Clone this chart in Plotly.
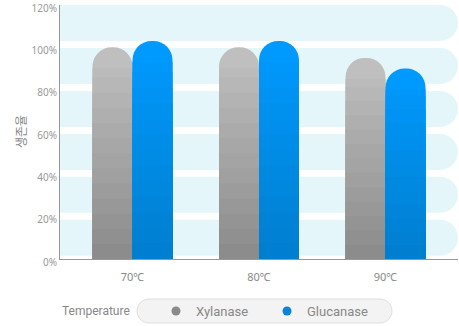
import plotly.graph_objects as go

# ---- data ----
categories = ["70℃", "80℃", "90℃"]
xylanase = [100, 100, 95]
glucanase = [103, 103, 90]
y_ticks = [0, 20, 40, 60, 80, 100, 120]
y_ticktext = ["0%", "20%", "40%", "60%", "80%", "100%", "120%"]
y_title = "생존율"
legend_title = "Temperature"

# ---- layout constants (pixels) ----
W, H = 459, 326
ML, MR, MT, MB = 60, 1, 5, 67
PW, PH = W - ML - MR, H - MT - MB
YMAX = 120
px_per_unit_y = PH / YMAX
XR = [-0.573, 2.573]

GRAY_TOP, GRAY_BOT = (193, 193, 193), (138, 138, 138)
BLUE_TOP, BLUE_BOT = (0, 154, 255), (0, 126, 206)


def mix(c1, c2, f):
    return "rgb(%d,%d,%d)" % tuple(round(a + (b - a) * f) for a, b in zip(c1, c2))


fig = go.Figure()

N = 14
cap = 21 / px_per_unit_y  # rounded cap height in data units


def add_gradient_bars(name, vals, group, top, bot):
    # full rounded bar (lightest colour)
    fig.add_trace(go.Bar(x=categories, y=vals, name=name, offsetgroup=group,
                         marker=dict(color=mix(bot, top, 1 - 0.5 / N), line=dict(width=0),
                                     cornerradius="50%"),
                         showlegend=False, hoverinfo="skip"))
    # overlay darker rectangular bars to build a vertical gradient
    for k in range(1, N):
        frac = 1 - k / N
        hs = [max(0.0, min(v * frac, v - cap)) for v in vals]
        col = mix(bot, top, 1 - (k + 0.5) / N)
        fig.add_trace(go.Bar(x=categories, y=hs, offsetgroup=group,
                             marker=dict(color=col, line=dict(width=0)),
                             showlegend=False, hoverinfo="skip"))


add_gradient_bars("Xylanase", xylanase, "xy", GRAY_TOP, GRAY_BOT)
add_gradient_bars("Glucanase", glucanase, "gl", BLUE_TOP, BLUE_BOT)

# legend-only traces with round markers
fig.add_trace(go.Scatter(x=[None], y=[None], mode="markers", name="Xylanase",
                         marker=dict(symbol="circle", size=9, color="#8a8a8a")))
fig.add_trace(go.Scatter(x=[None], y=[None], mode="markers", name="Glucanase",
                         marker=dict(symbol="circle", size=9, color="#0a84d8")))

# ---- background bands with rounded right ends ----
shapes = []
K = 0.5523
r_px = 18
rx = r_px / PW
for k in range(6):
    y0 = 20 * k + 1.5 + 0.3 * k
    y1 = min(y0 + 17, YMAX)
    ym = (y0 + y1) / 2
    ry = (y1 - y0) / 2
    xe = 1.0
    xs = xe - rx
    path = (f"M 0 {y0} L {xs} {y0} "
            f"C {xs + rx * K} {y0} {xe} {ym - ry * K} {xe} {ym} "
            f"C {xe} {ym + ry * K} {xs + rx * K} {y1} {xs} {y1} "
            f"L 0 {y1} Z")
    shapes.append(dict(type="path", xref="paper", yref="y", path=path,
                       fillcolor="#e5f6fb", line=dict(width=0), layer="below"))

# ---- legend pill ----
def ppx(x):
    return (x - ML) / PW


def ppy(y):
    return (MT + PH - y) / PH


lx0, lx1, ly0, ly1 = 137, 392, 299, 323
lr = (ly1 - ly0) / 2
pts = dict(a=ppx(lx0 + lr), b=ppx(lx1 - lr), l=ppx(lx0), r=ppx(lx1),
           t=ppy(ly0), btm=ppy(ly1), m=ppy((ly0 + ly1) / 2))
kx = lr * K / PW
ky = lr * K / PH
pill = (f"M {pts['a']} {pts['t']} L {pts['b']} {pts['t']} "
        f"C {pts['b'] + kx} {pts['t']} {pts['r']} {pts['m'] + ky} {pts['r']} {pts['m']} "
        f"C {pts['r']} {pts['m'] - ky} {pts['b'] + kx} {pts['btm']} {pts['b']} {pts['btm']} "
        f"L {pts['a']} {pts['btm']} "
        f"C {pts['a'] - kx} {pts['btm']} {pts['l']} {pts['m'] - ky} {pts['l']} {pts['m']} "
        f"C {pts['l']} {pts['m'] + ky} {pts['a'] - kx} {pts['t']} {pts['a']} {pts['t']} Z")
shapes.append(dict(type="path", xref="paper", yref="paper", path=pill,
                   fillcolor="#f3f3f3", line=dict(color="#dedede", width=1), layer="below"))

fig.update_layout(
    width=W, height=H,
    margin=dict(l=ML, r=MR, t=MT, b=MB, autoexpand=False),
    paper_bgcolor="white", plot_bgcolor="white",
    barmode="group", bargap=0.368, bargroupgap=0,
    shapes=shapes,
    showlegend=True,
    legend=dict(orientation="h", xref="container", yref="container",
                x=156 / W, xanchor="left", y=1 - 311 / H, yanchor="middle",
                bgcolor="rgba(0,0,0,0)", font=dict(family="Roboto", size=13, color="#888"),
                entrywidth=66, entrywidthmode="pixels", itemclick=False),
    annotations=[
        dict(text=legend_title, xref="paper", yref="paper", x=0, y=ppy(311),
             xanchor="left", yanchor="middle", showarrow=False,
             font=dict(family="Roboto", size=12, color="#888")),
        dict(text=y_title, xref="paper", yref="paper", x=ppx(20), y=0.5, textangle=-90,
             xanchor="center", yanchor="middle", showarrow=False,
             font=dict(family="Noto Sans CJK KR", size=12, color="#888")),
    ],
    xaxis=dict(type="category", range=XR, showline=True, linecolor="#999", linewidth=1,
               showgrid=False, ticks="", tickfont=dict(family="Noto Sans", size=11, color="#888"),
               ticklabelstandoff=8, fixedrange=True),
    yaxis=dict(range=[0, YMAX], tickmode="array", tickvals=y_ticks, ticktext=y_ticktext,
               showline=True, ticklabeloverflow="allow", ticklabelshift=3,
               linecolor="#999", linewidth=1, showgrid=False, zeroline=False, ticks="",
               tickfont=dict(family="Noto Sans", size=10, color="#999"), fixedrange=True),
)

fig.write_html("out.html")
